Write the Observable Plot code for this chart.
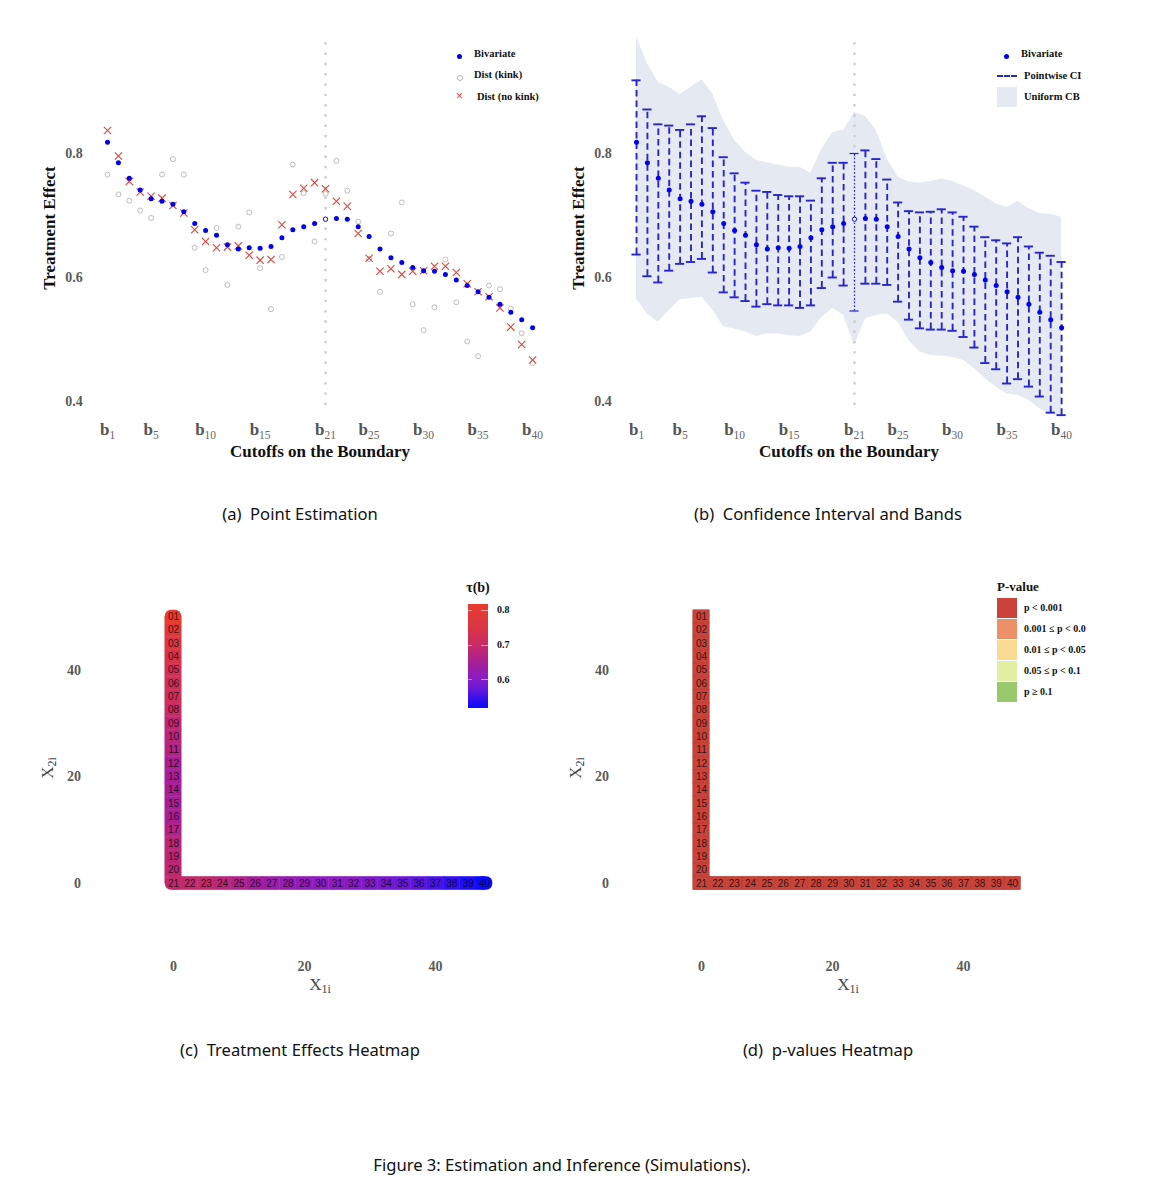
<!DOCTYPE html>
<html>
<head>
<meta charset="utf-8">
<script src="https://cdn.jsdelivr.net/npm/d3@7"></script>
<script src="https://cdn.jsdelivr.net/npm/@observablehq/plot@0.6"></script>
<style>
  body { margin: 0; background: #fff; }
  #page { position: relative; width: 1165px; height: 1200px; overflow: hidden; font-family: "Liberation Serif", serif; }
  .abs { position: absolute; }
  .cap { position: absolute; font-family: "Noto Sans", sans-serif; font-size: 16.6px; color: #111; transform: translateX(-50%); white-space: nowrap; line-height: 22px; }
  .leg { position: absolute; font-family: "Liberation Serif", serif; font-weight: bold; font-size: 10.5px; color: #111; white-space: nowrap; line-height: 14px; }
  .axt { position: absolute; font-family: "Liberation Serif", serif; font-weight: bold; font-size: 17px; color: #111; white-space: nowrap; line-height: 20px; }
  .axh { position: absolute; font-family: "Liberation Serif", serif; font-size: 17px; color: #444; white-space: nowrap; line-height: 20px; }
  .axh sub { font-size: 12px; vertical-align: -3px; }
</style>
</head>
<body>
<div id="page"></div>
<script>
// ---------------- data ----------------
const cutoffs = [1,2,3,4,5,6,7,8,9,10,11,12,13,14,15,16,17,18,19,20,21,22,23,24,25,26,27,28,29,30,31,32,33,34,35,36,37,38,39,40];
const bivariate = [0.818,0.785,0.760,0.741,0.727,0.723,0.718,0.706,0.687,0.676,0.668,0.653,0.646,0.648,0.647,0.650,0.664,0.677,0.682,0.687,0.694,0.695,0.694,0.682,0.666,0.646,0.632,0.624,0.616,0.611,0.610,0.605,0.596,0.587,0.577,0.568,0.557,0.544,0.532,0.519];
const distKink = [0.766,0.734,0.724,0.708,0.696,0.766,0.791,0.766,0.648,0.612,0.680,0.588,0.682,0.705,0.615,0.549,0.633,0.782,0.736,0.658,0.735,0.788,0.740,0.690,0.630,0.577,0.671,0.721,0.557,0.515,0.552,0.629,0.560,0.497,0.473,0.587,0.581,0.550,0.510,0.462];
const distNoKink = [0.837,0.796,0.755,0.738,0.731,0.728,0.716,0.704,0.677,0.658,0.648,0.649,0.651,0.636,0.628,0.629,0.685,0.734,0.744,0.753,0.743,0.723,0.715,0.671,0.631,0.610,0.614,0.605,0.610,0.611,0.618,0.618,0.608,0.590,0.577,0.569,0.551,0.520,0.492,0.467];
const ciUpper = [0.918,0.871,0.847,0.845,0.838,0.847,0.860,0.841,0.794,0.768,0.753,0.740,0.738,0.733,0.731,0.731,0.724,0.760,0.785,0.785,0.800,0.805,0.791,0.758,0.721,0.707,0.705,0.706,0.710,0.705,0.698,0.682,0.665,0.660,0.655,0.665,0.650,0.640,0.635,0.625];
const ciLower = [0.637,0.602,0.592,0.611,0.622,0.625,0.630,0.608,0.576,0.568,0.562,0.553,0.557,0.555,0.555,0.551,0.555,0.583,0.600,0.587,0.546,0.590,0.590,0.588,0.561,0.532,0.518,0.516,0.516,0.514,0.504,0.487,0.462,0.452,0.429,0.436,0.424,0.408,0.382,0.378];
const cbUpper = [0.988,0.945,0.915,0.907,0.895,0.907,0.919,0.896,0.853,0.821,0.802,0.789,0.785,0.781,0.778,0.778,0.768,0.807,0.834,0.837,0.866,0.860,0.837,0.791,0.762,0.754,0.752,0.755,0.759,0.755,0.748,0.740,0.730,0.719,0.713,0.723,0.711,0.703,0.702,0.697];
const cbLower = [0.565,0.541,0.528,0.547,0.564,0.566,0.568,0.547,0.520,0.517,0.512,0.505,0.509,0.509,0.506,0.505,0.512,0.536,0.550,0.539,0.490,0.533,0.539,0.541,0.528,0.498,0.480,0.474,0.473,0.471,0.466,0.453,0.437,0.423,0.412,0.410,0.402,0.388,0.380,0.375];
const kinkCutoff = 21;
const cutoffTicks = [1,5,10,15,21,25,30,35,40];
const effectTicks = [0.4,0.6,0.8];

const boundaryX1 = [0,0,0,0,0,0,0,0,0,0,0,0,0,0,0,0,0,0,0,0,0,2.5,5,7.5,10,12.5,15,17.5,20,22.5,25,27.5,30,32.5,35,37.5,40,42.5,45,47.5];
const boundaryX2 = [50,47.5,45,42.5,40,37.5,35,32.5,30,27.5,25,22.5,20,17.5,15,12.5,10,7.5,5,2.5,0,0,0,0,0,0,0,0,0,0,0,0,0,0,0,0,0,0,0,0];
const cellLabels = ["01","02","03","04","05","06","07","08","09","10","11","12","13","14","15","16","17","18","19","20","21","22","23","24","25","26","27","28","29","30","31","32","33","34","35","36","37","38","39","40"];
const coordTicks = [0,20,40];
const tauTicks = [0.6,0.7,0.8];
const pCategories = ["p < 0.001","0.001 ≤ p < 0.0","0.01 ≤ p < 0.05","0.05 ≤ p < 0.1","p ≥ 0.1"];
const pColors = ["#c9433a","#eb9068","#f9dc92","#e1eea3","#98c96c"];
const pValueClass = ["p < 0.001","p < 0.001","p < 0.001","p < 0.001","p < 0.001","p < 0.001","p < 0.001","p < 0.001","p < 0.001","p < 0.001",
                     "p < 0.001","p < 0.001","p < 0.001","p < 0.001","p < 0.001","p < 0.001","p < 0.001","p < 0.001","p < 0.001","p < 0.001",
                     "p < 0.001","p < 0.001","p < 0.001","p < 0.001","p < 0.001","p < 0.001","p < 0.001","p < 0.001","p < 0.001","p < 0.001",
                     "p < 0.001","p < 0.001","p < 0.001","p < 0.001","p < 0.001","p < 0.001","p < 0.001","p < 0.001","p < 0.001","p < 0.001"];
// colour ramp stops (fraction of the τ range) and colours
const tauStopFractions = [0, 0.084, 0.19, 0.31, 0.42, 0.585, 0.75, 1];
const tauStopColors = ["#0a0aff", "#3010f0", "#6a18d8", "#901cc0", "#a41e9a", "#c22a6c", "#d83448", "#e83c2e"];

// ---------------- helpers ----------------
const page = document.getElementById("page");
function place(el, left, top) {
  el.style.position = "absolute";
  el.style.left = left + "px";
  el.style.top = top + "px";
  page.appendChild(el);
  return el;
}
function html(cls, text, left, top, extra) {
  const d = document.createElement("div");
  d.className = cls;
  d.innerHTML = text;
  if (extra) Object.assign(d.style, extra);
  return place(d, left, top);
}

const rows = cutoffs.map((b, i) => ({
  b, biv: bivariate[i], kink: distKink[i], nokink: distNoKink[i],
  lo: ciLower[i], hi: ciUpper[i], cbl: cbLower[i], cbu: cbUpper[i]
}));

const W1 = 570, H1 = 480;
function effectPlot(marks) {
  const svg = Plot.plot({
    width: W1, height: H1,
    marginLeft: 98.3, marginRight: W1 - 543, marginTop: 35.2, marginBottom: H1 - 419.6,
    x: {domain: [0.2, 41], ticks: cutoffTicks, tickSize: 0, tickPadding: 5, tickFormat: d => String(d), label: null},
    y: {domain: [0.37, 0.99], ticks: effectTicks, tickSize: 0, tickPadding: 16, tickFormat: d3.format(".1f"), label: null},
    style: {fontFamily: "Liberation Serif, serif", fontSize: "14px", fontWeight: "bold", color: "#5a5a5a", background: "transparent", overflow: "visible"},
    marks
  });
  d3.select(svg).selectAll('g[aria-label="x-axis tick label"] text').each(function () {
    const t = d3.select(this);
    const n = t.text().trim();
    t.text(null);
    t.append("tspan").text("b").attr("font-size", 17).attr("font-weight", "bold").attr("fill", "#555");
    t.append("tspan").text(n).attr("font-size", 11.5).attr("font-weight", "normal").attr("fill", "#666").attr("dy", "0.32em");
  });
  return svg;
}
const kinkRule = () => Plot.ruleX([kinkCutoff], {stroke: "#c9c9c9", strokeWidth: 2.2, strokeDasharray: "2.4,7.9", insetTop: 7, insetBottom: 10});

// ---------------- panel (a) ----------------
const svgA = effectPlot([
  kinkRule(),
  Plot.dot(rows, {x: "b", y: "kink", r: 2.5, stroke: "#b5b5b5", strokeWidth: 0.9, fill: "none"}),
  Plot.dot(rows, {x: "b", y: "nokink", symbol: "times", r: 3.4, stroke: "#e0453c", strokeWidth: 1.1}),
  Plot.dot(rows.filter(d => d.b !== kinkCutoff), {x: "b", y: "biv", r: 2.5, fill: "#0000ee"}),
  Plot.dot(rows.filter(d => d.b === kinkCutoff), {x: "b", y: "biv", r: 2.2, fill: "white", stroke: "#0000ee", strokeWidth: 1})
]);
place(svgA, 0, 0);

// ---------------- panel (b) ----------------
const ciColor = "#2626cc";
const capHalf = 0.42;
const svgB = effectPlot([
  Plot.areaY(rows, {x: "b", y1: "cbl", y2: "cbu", fill: "#e5e9f2", clip: true}),
  kinkRule(),
  Plot.ruleX(rows.filter(d => d.b !== kinkCutoff), {x: "b", y1: "lo", y2: "hi", stroke: ciColor, strokeWidth: 1.9, strokeDasharray: "6.5,4"}),
  Plot.ruleY(rows.filter(d => d.b !== kinkCutoff), {y: "hi", x1: d => d.b - capHalf, x2: d => d.b + capHalf, stroke: ciColor, strokeWidth: 1.9}),
  Plot.ruleY(rows.filter(d => d.b !== kinkCutoff), {y: "lo", x1: d => d.b - capHalf, x2: d => d.b + capHalf, stroke: ciColor, strokeWidth: 1.9}),
  Plot.ruleX(rows.filter(d => d.b === kinkCutoff), {x: "b", y1: "lo", y2: "hi", stroke: ciColor, strokeWidth: 1.2, strokeDasharray: "1.6,2"}),
  Plot.ruleY(rows.filter(d => d.b === kinkCutoff), {y: "hi", x1: d => d.b - capHalf, x2: d => d.b + capHalf, stroke: ciColor, strokeWidth: 1.2}),
  Plot.ruleY(rows.filter(d => d.b === kinkCutoff), {y: "lo", x1: d => d.b - capHalf, x2: d => d.b + capHalf, stroke: ciColor, strokeWidth: 1.2}),
  Plot.dot(rows.filter(d => d.b !== kinkCutoff), {x: "b", y: "biv", r: 2.5, fill: "#0000ee"}),
  Plot.dot(rows.filter(d => d.b === kinkCutoff), {x: "b", y: "biv", r: 2.1, fill: "white", stroke: "#0000ee", strokeWidth: 1})
]);
place(svgB, 529, 0);

// axis titles (a), (b)
for (const dx of [0, 529]) {
  html("axt", "Cutoffs on the Boundary", 320 + dx, 442, {transform: "translateX(-50%)"});
  html("axt", "Treatment Effect", 50 + dx, 228, {transform: "translate(-50%,-50%) rotate(-90deg)"});
}

// legend (a)
function legendRow(left, top, markerHTML, label) {
  html("leg", markerHTML, left, top);
  html("leg", label, left + 17, top - 7);
}
legendRow(457, 54, '<div style="width:5px;height:5px;border-radius:50%;background:#0000ee"></div>', "Bivariate");
legendRow(457, 75, '<div style="width:4px;height:4px;border-radius:50%;border:0.9px solid #b5b5b5"></div>', "Dist (kink)");
html("leg", '<span style="font-family:Liberation Sans;font-weight:normal;font-size:12px;color:#e0453c">×</span>', 456, 89);
html("leg", "Dist (no kink)", 477, 90);

// legend (b)
legendRow(1004, 54, '<div style="width:5px;height:5px;border-radius:50%;background:#0000ee"></div>', "Bivariate");
html("leg", '<div style="width:20px;height:0;border-top:2px dashed ' + ciColor + '"></div>', 997, 75);
html("leg", "Pointwise CI", 1024, 69);
html("leg", '<div style="width:20px;height:20px;background:#e5e9f2"></div>', 997, 87);
html("leg", "Uniform CB", 1024, 90);

// ---------------- heatmaps ----------------
const cells = cutoffs.map((b, i) => ({b, x: boundaryX1[i], y: boundaryX2[i], tau: bivariate[i], p: pValueClass[i], label: cellLabels[i]}));
const half = 1.25;
const W2 = 560, H2 = 460;
const ends = [1, 21, 40];
function heatPlot(color, fillCh, rounded) {
  const base = {fill: fillCh, stroke: fillCh, strokeWidth: 0.4};
  let rectMarks;
  if (rounded) {
    rectMarks = [
      Plot.rect(cells.filter(d => ends.includes(d.b)), {x1: d => d.x - half, x2: d => d.x + half, y1: d => d.y - half, y2: d => d.y + half, rx: 6, ry: 6, fill: fillCh}),
      Plot.rect(cells.filter(d => !ends.includes(d.b)), {x1: d => d.x - half, x2: d => d.x + half, y1: d => d.y - half, y2: d => d.y + half, ...base}),
      Plot.rect(cells.filter(d => d.b === 1), {x1: d => d.x - half, x2: d => d.x + half, y1: d => d.y - half, y2: d => d.y, ...base}),
      Plot.rect(cells.filter(d => d.b === 40), {x1: d => d.x - half, x2: d => d.x, y1: d => d.y - half, y2: d => d.y + half, ...base}),
      Plot.rect(cells.filter(d => d.b === 21), {x1: d => d.x - half, x2: d => d.x + half, y1: d => d.y, y2: d => d.y + half, ...base}),
      Plot.rect(cells.filter(d => d.b === 21), {x1: d => d.x, x2: d => d.x + half, y1: d => d.y - half, y2: d => d.y + half, ...base})
    ];
  } else {
    rectMarks = [
      Plot.rect(cells, {x1: d => d.x - half, x2: d => d.x + half, y1: d => d.y - half, y2: d => d.y + half, fill: fillCh, stroke: "#b53a31", strokeWidth: 0.6})
    ];
  }
  return Plot.plot({
    width: W2, height: H2,
    marginLeft: 94.4, marginRight: 20.2, marginTop: 45.8, marginBottom: 73,
    x: {domain: [-12, 56], ticks: coordTicks, tickSize: 0, tickPadding: 14, label: null},
    y: {domain: [-12, 52], ticks: coordTicks, tickSize: 0, tickPadding: 14, label: null},
    color,
    style: {fontFamily: "Liberation Serif, serif", fontSize: "14px", fontWeight: "bold", color: "#5a5a5a", background: "transparent", overflow: "visible"},
    marks: [
      ...rectMarks,
      Plot.text(cells, {x: "x", y: "y", text: "label", fontSize: 10, fontFamily: "Liberation Sans, sans-serif", fontWeight: "normal", fill: "black", fillOpacity: 0.75})
    ]
  });
}

const tauExtent = d3.extent(bivariate);
const tauStops = tauStopFractions.map(f => tauExtent[0] + f * (tauExtent[1] - tauExtent[0]));
const svgC = heatPlot({type: "linear", domain: tauStops, range: tauStopColors, interpolate: "rgb"}, "tau", true);
place(svgC, 0, 560);
const svgD = heatPlot({type: "ordinal", domain: pCategories, range: pColors}, "p", false);
place(svgD, 528, 560);

for (const dx of [0, 528]) {
  html("axh", "X<sub>1i</sub>", 320 + dx, 975, {transform: "translateX(-50%)"});
  html("axh", "X<sub>2i</sub>", 50 + dx, 768, {transform: "translate(-50%,-50%) rotate(-90deg)"});
}

// colour bar (c)
const tauScale = svgC.scale("color");
const cbTop = 604, cbH = 104, cbLeft = 468, cbW = 20;
const stops = d3.range(0, 1.0001, 0.05).map(t => {
  const v = tauExtent[1] - t * (tauExtent[1] - tauExtent[0]);
  return tauScale.apply(v) + " " + (t * 100).toFixed(0) + "%";
});
html("abs", "", cbLeft, cbTop, {width: cbW + "px", height: cbH + "px", background: "linear-gradient(to bottom," + stops.join(",") + ")"});
html("axt", "τ(b)", cbLeft + cbW / 2, 578, {transform: "translateX(-50%)", fontSize: "14px"});
for (const v of tauTicks) {
  const yy = cbTop + (tauExtent[1] - v) / (tauExtent[1] - tauExtent[0]) * cbH;
  html("abs", "", cbLeft + 13, yy - 0.5, {width: "7px", height: "1px", background: "rgba(255,255,255,0.55)"});
  html("abs", "", cbLeft, yy - 0.5, {width: "4px", height: "1px", background: "rgba(255,255,255,0.45)"});
  html("leg", d3.format(".1f")(v), cbLeft + cbW + 9, yy - 7, {fontSize: "10px"});
}

// p-value legend (d)
const pScale = svgD.scale("color");
html("axt", "P-value", 997, 577, {fontSize: "13px"});
pCategories.forEach((c, i) => {
  const top = 598 + i * 21;
  html("abs", "", 997, top, {width: "20px", height: "20px", background: pScale.apply(c)});
  html("leg", c, 1024, top + 3, {fontSize: "10px"});
});

// ---------------- captions ----------------
html("cap", "(a)&nbsp; Point Estimation", 300, 503);
html("cap", "(b)&nbsp; Confidence Interval and Bands", 828, 503);
html("cap", "(c)&nbsp; Treatment Effects Heatmap", 300, 1039);
html("cap", "(d)&nbsp; p-values Heatmap", 828, 1039);
html("cap", "Figure 3: Estimation and Inference (Simulations).", 562, 1154);
</script>
</body>
</html>
